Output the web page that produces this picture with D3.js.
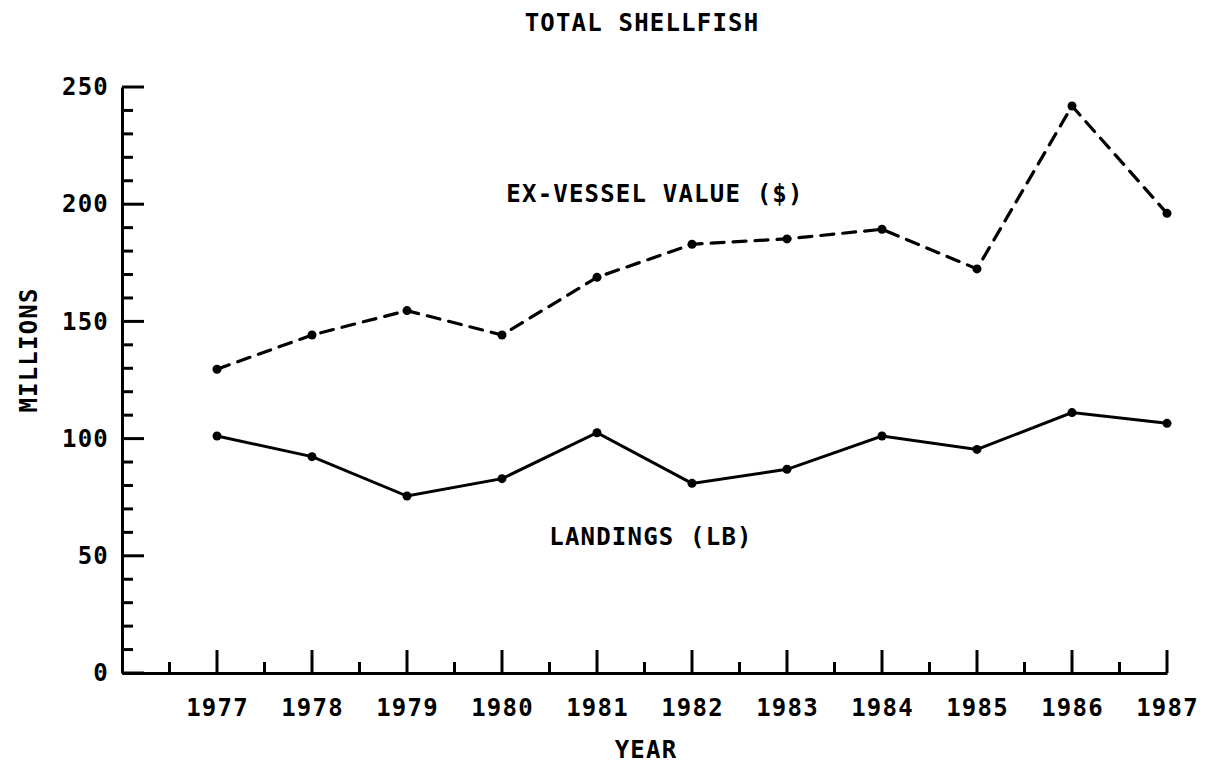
<!DOCTYPE html>
<html>
<head>
<meta charset="utf-8">
<script src="https://cdn.jsdelivr.net/npm/d3@7"></script>
<style>
  html, body { margin: 0; padding: 0; background: #fff; }
  svg text { font-family: "DejaVu Sans Mono", monospace; font-weight: bold; fill: #000; letter-spacing: 1.2px; }
</style>
</head>
<body>
<svg id="chart" width="1212" height="772"></svg>
<script>
const years = [1977, 1978, 1979, 1980, 1981, 1982, 1983, 1984, 1985, 1986, 1987];
const exVesselValue = [129.6, 144.2, 154.6, 144.2, 168.8, 182.9, 185.2, 189.3, 172.4, 241.9, 196.1];
const landings = [101.1, 92.3, 75.5, 82.9, 102.5, 80.9, 86.9, 101.1, 95.4, 111.1, 106.5];
const yTicks = [0, 50, 100, 150, 200, 250];
const title = "TOTAL SHELLFISH";
const xTitle = "YEAR";
const yTitle = "MILLIONS";
const valueLabel = "EX-VESSEL VALUE ($)";
const landingsLabel = "LANDINGS (LB)";

const svg = d3.select("#chart");
const x = d3.scaleLinear().domain([1976, 1987]).range([122, 1167]);
const y = d3.scaleLinear().domain([0, 250]).range([673, 87]);

// Y axis
const yAxis = d3.axisLeft(y).tickValues(yTicks).tickSize(0).tickPadding(13).tickFormat(d3.format("d"));
const gy = svg.append("g").attr("transform", `translate(${x(1976)},0)`).call(yAxis);
gy.select(".domain").attr("stroke", "#000").attr("stroke-width", 3);
gy.selectAll("text").style("font-size", "24px");

// y ticks (pointing into plot)
const yMinor = d3.range(0, 251, 10);
svg.append("g").selectAll("line").data(yMinor).join("line")
  .attr("x1", x(1976)).attr("x2", d => x(1976) + (d % 50 === 0 ? 22 : 11))
  .attr("y1", d => y(d)).attr("y2", d => y(d))
  .attr("stroke", "#000").attr("stroke-width", 3);

// X axis
const xAxis = d3.axisBottom(x).tickValues(years).tickSize(0).tickPadding(26).tickFormat(d3.format("d"));
const gx = svg.append("g").attr("transform", `translate(0,${y(0)})`).call(xAxis);
gx.select(".domain").attr("stroke", "#000").attr("stroke-width", 3);
gx.selectAll("text").style("font-size", "24px");

const xMinor = d3.range(1976.5, 1987.01, 0.5);
svg.append("g").selectAll("line").data(xMinor).join("line")
  .attr("x1", d => x(d)).attr("x2", d => x(d))
  .attr("y1", y(0)).attr("y2", d => y(0) - (Number.isInteger(d) ? 23 : 11))
  .attr("stroke", "#000").attr("stroke-width", 3);

// Lines
const line = d3.line().x((d, i) => x(years[i])).y(d => y(d));
svg.append("path").datum(exVesselValue).attr("d", line)
  .attr("fill", "none").attr("stroke", "#000").attr("stroke-width", 3.2)
  .attr("stroke-dasharray", "13,9").attr("stroke-linecap", "round");
svg.append("path").datum(landings).attr("d", line)
  .attr("fill", "none").attr("stroke", "#000").attr("stroke-width", 3);

[exVesselValue, landings].forEach(series => {
  svg.append("g").selectAll("circle").data(series).join("circle")
    .attr("cx", (d, i) => x(years[i])).attr("cy", d => y(d)).attr("r", 4.5).attr("fill", "#000");
});

// Texts
svg.append("text").attr("x", 642).attr("y", 31).attr("text-anchor", "middle")
  .style("font-size", "24px").text(title);
svg.append("text").attr("x", 655).attr("y", 202).attr("text-anchor", "middle")
  .style("font-size", "24px").text(valueLabel);
svg.append("text").attr("x", 651).attr("y", 545).attr("text-anchor", "middle")
  .style("font-size", "24px").text(landingsLabel);
svg.append("text").attr("x", 646).attr("y", 758).attr("text-anchor", "middle")
  .style("font-size", "24px").text(xTitle);
svg.append("text").attr("transform", "translate(37,350) rotate(-90)").attr("text-anchor", "middle")
  .style("font-size", "24px").text(yTitle);
</script>
</body>
</html>
